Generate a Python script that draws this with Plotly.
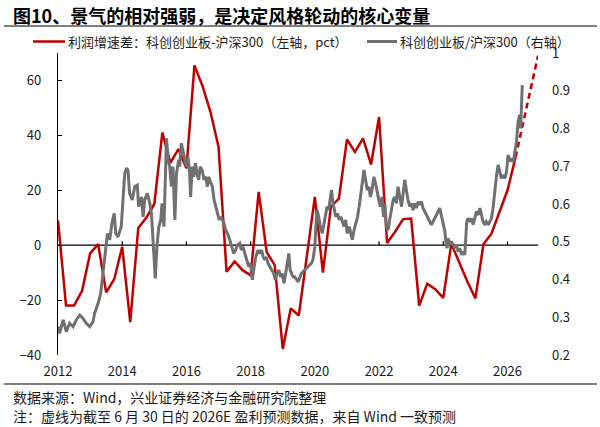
import plotly.graph_objects as go

# ---------------- data ----------------
red_x = [2012.00, 2012.25, 2012.50, 2012.75, 2013.00, 2013.25, 2013.50, 2013.75,
         2014.00, 2014.25, 2014.50, 2014.75, 2015.00, 2015.25, 2015.50, 2015.75,
         2016.00, 2016.25, 2016.50, 2016.75, 2017.00, 2017.25, 2017.50, 2017.75,
         2018.00, 2018.25, 2018.50, 2018.75, 2019.00, 2019.25, 2019.50, 2019.75,
         2020.00, 2020.25, 2020.50, 2020.75, 2021.00, 2021.25, 2021.50, 2021.75,
         2022.00, 2022.25, 2022.50, 2022.75, 2023.00, 2023.25, 2023.50, 2023.75,
         2024.00, 2024.25, 2024.50, 2024.75, 2025.00, 2025.25, 2025.50, 2025.75,
         2026.00, 2026.25]
red_y = [9, -22, -22, -16.6, -3, 0.4, -17.2, -12.4,
         -0.6, -28, 6.3, 10, 15, 41, 30, 35,
         28, 65.5, 58, 48.5, 35.8, -9.7, -5.9, -9.1,
         -11, 19.4, -2.5, -7.3, -37.8, -23, -25.6, -4,
         17.6, -10, 14, 17, 38.5, 34, 38.9, 29.4,
         46.7, 0.8, 4.9, 9.5, 9.7, -22, -14, -16,
         -19.2, 0.5, -6.7, -13.2, -19.4, 0.3, 4.2, 11.8,
         20, 32]
red_fc_x = [2026.25, 2026.95]
red_fc_y = [32, 69]

gray_x = [
    2012.00, 2012.05, 2012.16, 2012.26, 2012.36, 2012.47, 2012.57, 2012.68, 2012.78, 2012.88,
    2012.99, 2013.09, 2013.14, 2013.25, 2013.33, 2013.40, 2013.48, 2013.54, 2013.61, 2013.68,
    2013.75, 2013.80, 2013.87, 2013.97, 2014.03, 2014.08, 2014.13, 2014.18, 2014.23, 2014.31,
    2014.39, 2014.47, 2014.51, 2014.60, 2014.65, 2014.70, 2014.78, 2014.86, 2014.91, 2014.98,
    2015.03, 2015.08, 2015.14, 2015.20, 2015.24, 2015.30, 2015.38, 2015.43, 2015.48, 2015.53,
    2015.58, 2015.64, 2015.69, 2015.76,
    2015.79, 2015.84, 2015.89, 2015.95, 2016.00, 2016.05, 2016.10, 2016.13, 2016.18, 2016.23,
    2016.28, 2016.33, 2016.38, 2016.43, 2016.49, 2016.55, 2016.60, 2016.65, 2016.70, 2016.76,
    2016.81, 2016.86, 2016.91, 2016.96, 2017.02, 2017.07, 2017.12, 2017.17, 2017.22, 2017.28,
    2017.35, 2017.42, 2017.47, 2017.53, 2017.59, 2017.66, 2017.71, 2017.76, 2017.82, 2017.87,
    2017.94, 2018.00, 2018.05, 2018.11, 2018.16, 2018.23, 2018.28, 2018.34, 2018.39, 2018.44,
    2018.49, 2018.54, 2018.60, 2018.65, 2018.72, 2018.77, 2018.82, 2018.88, 2018.93, 2018.98,
    2019.04, 2019.09, 2019.15, 2019.19, 2019.23, 2019.27, 2019.32,
    2019.37, 2019.48, 2019.58, 2019.69, 2019.79, 2019.89, 2019.94, 2020.00, 2020.03, 2020.07,
    2020.12, 2020.17, 2020.23, 2020.28, 2020.33, 2020.38, 2020.43, 2020.49, 2020.52, 2020.55,
    2020.60, 2020.65, 2020.70, 2020.76, 2020.81, 2020.86, 2020.91, 2020.96, 2021.01, 2021.07,
    2021.12, 2021.17, 2021.22, 2021.27, 2021.33, 2021.38, 2021.43, 2021.48, 2021.53, 2021.58,
    2021.63, 2021.68, 2021.73, 2021.78, 2021.84, 2021.89, 2021.94, 2021.99, 2022.04, 2022.09,
    2022.14, 2022.18, 2022.23, 2022.28, 2022.33, 2022.39, 2022.44, 2022.49, 2022.54, 2022.59,
    2022.65, 2022.70, 2022.75, 2022.80, 2022.85, 2022.90, 2022.96, 2023.01, 2023.06, 2023.11,
    2023.16, 2023.22, 2023.27, 2023.32, 2023.37, 2023.42, 2023.48, 2023.53, 2023.58, 2023.63,
    2023.68, 2023.74, 2023.79, 2023.84, 2023.89, 2023.94, 2024.00, 2024.05, 2024.08, 2024.12,
    2024.15, 2024.20, 2024.25, 2024.31, 2024.36, 2024.41, 2024.46, 2024.51, 2024.57, 2024.62,
    2024.67, 2024.70, 2024.73, 2024.77, 2024.83, 2024.88, 2024.93, 2024.98, 2025.03, 2025.09,
    2025.14, 2025.19, 2025.24, 2025.29, 2025.34, 2025.40, 2025.45, 2025.50, 2025.55, 2025.60,
    2025.66, 2025.71, 2025.76, 2025.81, 2025.86, 2025.92, 2025.97, 2026.02, 2026.07, 2026.12,
    2026.18, 2026.23, 2026.28, 2026.33, 2026.38, 2026.41, 2026.44, 2026.46]
gray_y = [
    0.275, 0.257, 0.293, 0.262, 0.284, 0.275, 0.293, 0.306, 0.297, 0.284,
    0.275, 0.288, 0.310, 0.337, 0.363, 0.416, 0.487, 0.522, 0.505, 0.549,
    0.575, 0.522, 0.513, 0.540, 0.619, 0.681, 0.695, 0.690, 0.628, 0.611,
    0.646, 0.650, 0.593, 0.619, 0.566, 0.611, 0.628, 0.602, 0.575, 0.460,
    0.403, 0.487, 0.540, 0.557, 0.602, 0.540, 0.774, 0.717, 0.699, 0.646,
    0.699, 0.558, 0.681, 0.717,
    0.699, 0.761, 0.743, 0.717, 0.699, 0.725, 0.681, 0.619, 0.699, 0.672,
    0.708, 0.681, 0.664, 0.699, 0.690, 0.664, 0.672, 0.646, 0.672, 0.655,
    0.646, 0.611, 0.593, 0.575, 0.558, 0.566, 0.558, 0.549, 0.531, 0.522,
    0.505, 0.487, 0.469, 0.478, 0.491, 0.496, 0.478, 0.487, 0.469, 0.452,
    0.434, 0.443, 0.399, 0.434, 0.460, 0.478, 0.469, 0.478, 0.460, 0.452,
    0.460, 0.443, 0.434, 0.425, 0.416, 0.399, 0.416, 0.425, 0.407, 0.416,
    0.390, 0.416, 0.443, 0.469, 0.425, 0.416, 0.407,
    0.407, 0.394, 0.416, 0.425, 0.434, 0.443, 0.452, 0.487, 0.540, 0.584,
    0.566, 0.540, 0.522, 0.549, 0.566, 0.593, 0.584, 0.619, 0.637, 0.611,
    0.584, 0.566, 0.575, 0.558, 0.566, 0.549, 0.540, 0.558, 0.522, 0.540,
    0.522, 0.505, 0.531, 0.549, 0.566, 0.593, 0.628, 0.655, 0.690, 0.664,
    0.637, 0.646, 0.619, 0.637, 0.672, 0.655, 0.628, 0.611, 0.593, 0.619,
    0.566, 0.602, 0.540, 0.531, 0.558, 0.584, 0.611, 0.619, 0.602, 0.646,
    0.619, 0.593, 0.628, 0.664, 0.637, 0.611, 0.593, 0.602, 0.584, 0.602,
    0.589, 0.606, 0.598, 0.606, 0.589, 0.580, 0.571, 0.562, 0.553, 0.545,
    0.553, 0.562, 0.571, 0.580, 0.589, 0.571, 0.545, 0.527, 0.501, 0.483,
    0.509, 0.492, 0.501, 0.492, 0.483, 0.492, 0.474, 0.483, 0.465, 0.474,
    0.465, 0.509, 0.553, 0.562, 0.553, 0.562, 0.545, 0.562, 0.580, 0.571,
    0.589, 0.571, 0.553, 0.545, 0.553, 0.545, 0.553, 0.562, 0.589, 0.633,
    0.677, 0.704, 0.686, 0.668, 0.677, 0.668, 0.686, 0.730, 0.712, 0.721,
    0.712, 0.739, 0.765, 0.818, 0.836, 0.800, 0.862, 0.915]

x_ticks = [2012, 2014, 2016, 2018, 2020, 2022, 2024, 2026]
y_left_ticks = [-40, -20, 0, 20, 40, 60]
y_right_ticks = [0.2, 0.3, 0.4, 0.5, 0.6, 0.7, 0.8, 0.9, 1.0]
y_right_labels = ["0.2", "0.3", "0.4", "0.5", "0.6", "0.7", "0.8", "0.9", "1"]

title = "图10、景气的相对强弱，是决定风格轮动的核心变量"
name_red = "利润增速差：科创创业板-沪深300（左轴，pct）"
name_gray = "科创创业板/沪深300（右轴）"
source = "数据来源：Wind，兴业证券经济与金融研究院整理"
note = "注：虚线为截至 6 月 30 日的 2026E 盈利预测数据，来自 Wind 一致预测"

# ---------------- layout geometry ----------------
W, H = 600, 427
ML, MR, MT, MB = 58, 62, 53, 72
PW, PH = W - ML - MR, H - MT - MB


def px_x(px):
    return (px - ML) / PW


def px_y(py):
    return 1 - (py - MT) / PH


FONT = "Noto Sans CJK SC, Noto Sans, sans-serif"
RED = "#C00000"
GRAY = "#707070"
TXT = "#1a1a1a"
LEG_Y = 41.5

fig = go.Figure()
fig.add_trace(go.Scatter(x=red_x, y=red_y, mode="lines", name=name_red,
                         line=dict(color=RED, width=2.5), yaxis="y"))
fig.add_trace(go.Scatter(x=red_fc_x, y=red_fc_y, mode="lines", showlegend=False,
                         line=dict(color=RED, width=2.5, dash="6px,4px"), yaxis="y"))
fig.add_trace(go.Scatter(x=gray_x, y=gray_y, mode="lines", name=name_gray,
                         line=dict(color=GRAY, width=3), yaxis="y2"))

shapes = []
# zero line
shapes.append(dict(type="line", xref="x", yref="y", x0=2012, x1=2026.95, y0=0, y1=0,
                   line=dict(color="#000000", width=1.2), layer="below"))
for t in x_ticks[1:]:
    shapes.append(dict(type="line", xref="x", yref="y", x0=t, x1=t, y0=0, y1=1.4,
                       line=dict(color="#000000", width=1.2), layer="below"))
# separators
shapes.append(dict(type="line", xref="paper", yref="paper", x0=px_x(4), x1=px_x(597),
                   y0=px_y(26), y1=px_y(26), line=dict(color="#555555", width=1.3)))
shapes.append(dict(type="line", xref="paper", yref="paper", x0=px_x(4), x1=px_x(597),
                   y0=px_y(384), y1=px_y(384), line=dict(color="#555555", width=1.3)))
# legend samples
shapes.append(dict(type="line", xref="paper", yref="paper", x0=px_x(33), x1=px_x(65),
                   y0=px_y(LEG_Y), y1=px_y(LEG_Y), line=dict(color=RED, width=2.5)))
shapes.append(dict(type="line", xref="paper", yref="paper", x0=px_x(367), x1=px_x(397),
                   y0=px_y(LEG_Y), y1=px_y(LEG_Y), line=dict(color=GRAY, width=3)))

annotations = [
    dict(text="<b>" + title + "</b>", x=px_x(11), y=px_y(15), xref="paper", yref="paper",
         xanchor="left", yanchor="middle", showarrow=False,
         font=dict(family=FONT, size=18, color="#000000")),
    dict(text=name_red, x=px_x(66), y=px_y(LEG_Y), xref="paper", yref="paper",
         xanchor="left", yanchor="middle", showarrow=False,
         font=dict(family=FONT, size=13, color=TXT)),
    dict(text=name_gray, x=px_x(398), y=px_y(LEG_Y), xref="paper", yref="paper",
         xanchor="left", yanchor="middle", showarrow=False,
         font=dict(family=FONT, size=13, color=TXT)),
    dict(text=source, x=px_x(11), y=px_y(397), xref="paper", yref="paper",
         xanchor="left", yanchor="middle", showarrow=False,
         font=dict(family=FONT, size=14, color=TXT)),
    dict(text=note, x=px_x(11), y=px_y(416), xref="paper", yref="paper",
         xanchor="left", yanchor="middle", showarrow=False,
         font=dict(family=FONT, size=14, color=TXT)),
]

fig.update_layout(
    width=W, height=H,
    margin=dict(l=ML, r=MR, t=MT, b=MB, pad=0),
    paper_bgcolor="white", plot_bgcolor="white",
    showlegend=False,
    font=dict(family=FONT, size=13, color=TXT),
    xaxis=dict(range=[2012, 2026.95], tickvals=x_ticks, ticktext=[str(v) for v in x_ticks],
               showgrid=False, zeroline=False, showline=False, ticks="",
               ticklabelstandoff=7, tickfont=dict(family=FONT, size=13, color=TXT)),
    yaxis=dict(range=[-40, 70], tickvals=y_left_ticks, showgrid=False, zeroline=False,
               showline=True, linecolor="#000000", linewidth=1.2,
               ticks="inside", ticklen=4, tickcolor="#000000", tickwidth=1.2,
               ticklabelstandoff=13, tickfont=dict(family=FONT, size=13, color=TXT)),
    yaxis2=dict(range=[0.2, 1.0], overlaying="y", side="right", tickvals=y_right_ticks,
                ticktext=y_right_labels, showgrid=False, zeroline=False, showline=False,
                ticks="", ticklabelstandoff=13,
                tickfont=dict(family=FONT, size=13, color=TXT)),
    shapes=shapes,
    annotations=annotations,
)

fig.write_html("out.html")
